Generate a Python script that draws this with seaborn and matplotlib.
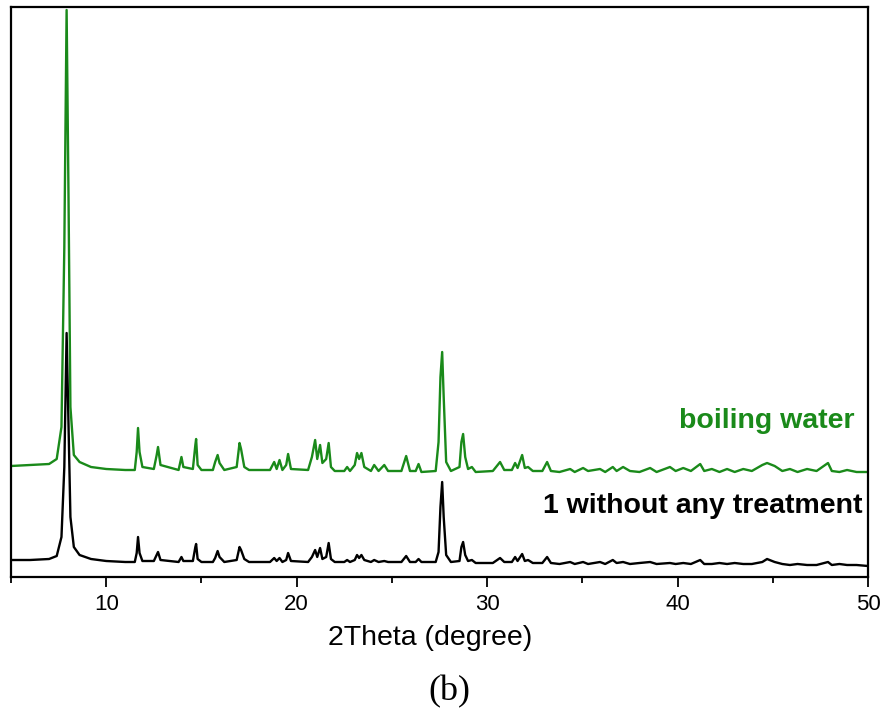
import matplotlib
matplotlib.use("Agg")
import matplotlib.pyplot as plt
import seaborn as sns
import pandas as pd

# ---------------- data ----------------
two_theta_untreated = [
    5.0, 6.0, 7.0, 7.4, 7.65, 7.8, 7.92, 8.02, 8.12, 8.3, 8.6, 9.2, 10.0, 11.0,
    11.5, 11.6, 11.67, 11.75, 11.9, 12.5, 12.65, 12.72, 12.85, 13.8, 13.95, 14.05,
    14.55, 14.68, 14.72, 14.8, 15.0, 15.6, 15.72, 15.85, 15.95, 16.2, 16.85, 17.0,
    17.08, 17.25, 17.5, 18.6, 18.82, 18.95, 19.1, 19.25, 19.45, 19.55, 19.7, 20.6,
    20.8, 20.97, 21.08, 21.23, 21.35, 21.55, 21.68, 21.8, 22.0, 22.5, 22.65, 22.8,
    23.05, 23.17, 23.28, 23.4, 23.55, 23.9, 24.07, 24.3, 24.6, 24.8, 25.5, 25.75,
    25.95, 26.25, 26.4, 26.55, 27.3, 27.45, 27.55, 27.64, 27.72, 27.85, 28.1, 28.55,
    28.65, 28.74, 28.85, 29.0, 29.2, 29.4, 30.3, 30.68, 30.9, 31.3, 31.47, 31.6,
    31.84, 31.98, 32.15, 32.4, 32.9, 33.15, 33.35, 33.8, 34.36, 34.6, 35.04, 35.3,
    35.93, 36.2, 36.6, 36.8, 37.14, 37.5, 38.0, 38.56, 38.9, 39.6, 39.9, 40.3,
    40.7, 41.19, 41.4, 41.8, 42.2, 42.6, 43.0, 43.45, 43.9, 44.45, 44.7, 45.1,
    45.5, 45.9, 46.3, 46.8, 47.3, 47.9, 48.1, 48.5, 48.9, 49.4, 50.0,
]
intensity_untreated = [
    17, 17, 18, 21, 40, 110, 244, 150, 60, 30, 22, 18, 16, 15,
    15, 24, 40, 24, 16, 16, 22, 25, 17, 15, 20, 16,
    16, 30, 33, 18, 15, 15, 19, 26, 20, 15, 17, 30,
    27, 18, 15, 15, 19, 16, 19, 15, 17, 24, 16, 15,
    20, 27, 20, 29, 18, 20, 34, 18, 15, 15, 17, 15,
    17, 22, 19, 22, 17, 15, 17, 15, 16, 15, 15, 21,
    15, 15, 18, 15, 15, 25, 70, 95, 60, 22, 15, 16,
    30, 35, 22, 16, 17, 14, 14, 19, 15, 15, 20, 16,
    23, 16, 17, 14, 14, 20, 14, 13, 15, 13, 15, 13,
    15, 13, 17, 14, 15, 13, 14, 15, 13, 14, 13, 14,
    13, 17, 13, 13, 14, 13, 14, 13, 13, 15, 18, 15,
    13, 12, 13, 12, 12, 15, 12, 13, 12, 12, 11,
]

two_theta_boiling = list(two_theta_untreated)
intensity_boiling = [
    111, 112, 113, 118, 150, 330, 567, 380, 170, 122, 115, 110, 108, 107,
    107, 125, 149, 125, 110, 108, 122, 130, 112, 107, 120, 110,
    108, 132, 138, 112, 107, 107, 115, 122, 114, 107, 110, 134,
    128, 110, 107, 107, 115, 108, 117, 107, 112, 123, 108, 107,
    120, 137, 118, 132, 114, 118, 134, 110, 106, 106, 110, 106,
    112, 124, 118, 124, 110, 106, 112, 106, 112, 106, 106, 121,
    106, 106, 113, 105, 106, 135, 200, 225, 180, 115, 106, 110,
    135, 143, 120, 108, 110, 105, 106, 115, 107, 107, 114, 109,
    122, 109, 110, 106, 106, 115, 106, 105, 108, 105, 109, 106,
    108, 105, 110, 106, 110, 106, 105, 109, 105, 110, 106, 109,
    106, 113, 106, 108, 105, 108, 105, 108, 106, 112, 114, 111,
    106, 108, 105, 108, 106, 114, 106, 105, 107, 105, 105,
]

series_labels = ["1 without any treatment", "boiling water"]
x_ticks = [10, 20, 30, 40, 50]

# ---------------- plotting ----------------
sns.set_theme(style="ticks")
plt.rcParams["font.family"] = ["Liberation Sans", "DejaVu Sans"]
plt.rcParams["text.color"] = "black"
plt.rcParams["axes.labelcolor"] = "black"
plt.rcParams["xtick.color"] = "black"
plt.rcParams["xtick.labelcolor"] = "black"

GREEN = "#1a8a1a"
BLACK = "#000000"

fig = plt.figure(figsize=(8.86, 7.13), dpi=100)
ax = fig.add_axes([11 / 886, 1 - 577 / 713, 857 / 886, 570 / 713])

df_u = pd.DataFrame({"x": two_theta_untreated, "y": intensity_untreated})
df_b = pd.DataFrame({"x": two_theta_boiling, "y": intensity_boiling})
sns.lineplot(data=df_u, x="x", y="y", ax=ax, color=BLACK, lw=1.7,
             estimator=None, sort=False)
sns.lineplot(data=df_b, x="x", y="y", ax=ax, color=GREEN, lw=1.7,
             estimator=None, sort=False)

ax.set_xlim(5, 50)
ax.set_ylim(0, 570)
ax.set_xticks(x_ticks)
ax.set_xticks([5, 15, 25, 35, 45], minor=True)
ax.set_yticks([])
ax.tick_params(axis="x", which="major", direction="out", length=7, width=1.3,
               labelsize=16, pad=5, colors="black")
ax.tick_params(axis="x", which="minor", direction="out", length=4, width=1.3,
               colors="black")
for s in ax.spines.values():
    s.set_visible(True)
    s.set_linewidth(1.6)
    s.set_color("black")

ax.set_xlabel("2Theta (degree)", fontsize=20.5, color="black")
ax.xaxis.set_label_coords((430 - 11) / 857, -(645 - 577) / 570)
ax.xaxis.label.set_va("baseline")
ax.set_ylabel("")

ax.text(49.3, 149, series_labels[1], color=GREEN, fontsize=20.5,
        fontweight="bold", ha="right", va="baseline")
ax.text(49.7, 64, series_labels[0], color=BLACK, fontsize=20.5,
        fontweight="bold", ha="right", va="baseline")

fig.text(449 / 886, 1 - 700 / 713, "(b)", ha="center", va="baseline",
         fontsize=26, color="black", family=["Liberation Serif", "DejaVu Serif"])

fig.savefig("out.png", dpi=100, facecolor="white")
